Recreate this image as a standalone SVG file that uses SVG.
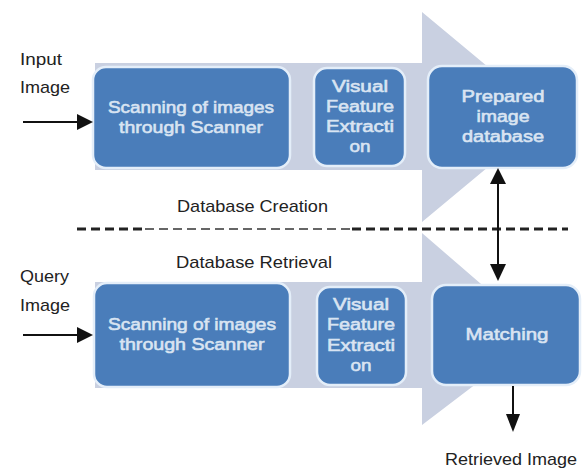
<svg xmlns="http://www.w3.org/2000/svg" width="586" height="470" viewBox="0 0 586 470">
  <style>
    .band { fill: #c9d0e1; }
    .box { fill: #4a7dba; stroke: #e4eef9; stroke-width: 2.5; }
    .boxtxt { font-family: "Liberation Sans", Arial, sans-serif; fill: #d9e4f2; stroke: #d9e4f2; stroke-width: 0.6; text-anchor: middle; }
    .lbl { font-family: "Liberation Sans", Arial, sans-serif; font-size: 17px; fill: #222; }
    .wire { stroke: #111; stroke-width: 2; fill: none; }
    .head { fill: #111; }
  </style>

  <!-- background process arrows -->
  <g id="band-creation">
    <polygon class="band" points="95,63 422,63 422,12 548,117 422,222 422,170 95,170"/>
  </g>
  <g id="band-retrieval">
    <polygon class="band" points="95,282 422,282 422,233 540,335 422,425 422,388 95,388"/>
  </g>

  <!-- section divider -->
  <g id="divider">
    <line x1="77" y1="229" x2="145" y2="229" stroke="#222" stroke-width="3" stroke-dasharray="9,5"/>
    <line x1="145" y1="229" x2="352" y2="229" stroke="#666" stroke-width="2" stroke-dasharray="9,5"/>
    <line x1="352" y1="229" x2="568" y2="229" stroke="#222" stroke-width="3" stroke-dasharray="9,5"/>
  </g>

  <!-- creation row -->
  <g id="scan-create">
    <rect class="box" x="93" y="67" width="197" height="101" rx="13"/>
    <text class="boxtxt" x="191" y="113" font-size="17" textLength="166" lengthAdjust="spacingAndGlyphs">Scanning of images</text>
    <text class="boxtxt" x="191" y="133" font-size="17" textLength="144" lengthAdjust="spacingAndGlyphs">through Scanner</text>
  </g>
  <g id="feature-create">
    <rect class="box" x="314" y="68" width="91" height="98" rx="13"/>
    <text class="boxtxt" x="360" y="92" font-size="16" textLength="56" lengthAdjust="spacingAndGlyphs">Visual</text>
    <text class="boxtxt" x="360" y="112" font-size="16" textLength="68" lengthAdjust="spacingAndGlyphs">Feature</text>
    <text class="boxtxt" x="360" y="132" font-size="16" textLength="68" lengthAdjust="spacingAndGlyphs">Extracti</text>
    <text class="boxtxt" x="360" y="152" font-size="17" textLength="21" lengthAdjust="spacingAndGlyphs">on</text>
  </g>
  <g id="prepared-db">
    <rect class="box" x="428" y="66" width="149" height="102" rx="14"/>
    <text class="boxtxt" x="503" y="102" font-size="16" textLength="83" lengthAdjust="spacingAndGlyphs">Prepared</text>
    <text class="boxtxt" x="503" y="122" font-size="16" textLength="53" lengthAdjust="spacingAndGlyphs">image</text>
    <text class="boxtxt" x="503" y="142" font-size="16" textLength="82" lengthAdjust="spacingAndGlyphs">database</text>
  </g>

  <!-- retrieval row -->
  <g id="scan-retrieve">
    <rect class="box" x="94" y="283" width="196" height="104" rx="13"/>
    <text class="boxtxt" x="192" y="330" font-size="17" textLength="168" lengthAdjust="spacingAndGlyphs">Scanning of images</text>
    <text class="boxtxt" x="192" y="350" font-size="17" textLength="145" lengthAdjust="spacingAndGlyphs">through Scanner</text>
  </g>
  <g id="feature-retrieve">
    <rect class="box" x="317" y="287" width="89" height="98" rx="13"/>
    <text class="boxtxt" x="361" y="310" font-size="16" textLength="56" lengthAdjust="spacingAndGlyphs">Visual</text>
    <text class="boxtxt" x="361" y="330" font-size="16" textLength="68" lengthAdjust="spacingAndGlyphs">Feature</text>
    <text class="boxtxt" x="361" y="351" font-size="16" textLength="68" lengthAdjust="spacingAndGlyphs">Extracti</text>
    <text class="boxtxt" x="361" y="371" font-size="17" textLength="21" lengthAdjust="spacingAndGlyphs">on</text>
  </g>
  <g id="matching">
    <rect class="box" x="432" y="285" width="148" height="100" rx="14"/>
    <text class="boxtxt" x="507" y="340" font-size="17" textLength="83" lengthAdjust="spacingAndGlyphs">Matching</text>
  </g>

  <!-- free labels -->
  <g id="labels">
    <text class="lbl" x="20" y="65" textLength="42" lengthAdjust="spacingAndGlyphs">Input</text>
    <text class="lbl" x="20" y="93" textLength="50" lengthAdjust="spacingAndGlyphs">Image</text>
    <text class="lbl" x="20" y="282" textLength="49" lengthAdjust="spacingAndGlyphs">Query</text>
    <text class="lbl" x="20" y="311" textLength="50" lengthAdjust="spacingAndGlyphs">Image</text>
    <text class="lbl" x="177" y="212" textLength="151" lengthAdjust="spacingAndGlyphs">Database Creation</text>
    <text class="lbl" x="176" y="268" textLength="156" lengthAdjust="spacingAndGlyphs">Database Retrieval</text>
    <text class="lbl" x="445" y="465" textLength="132" lengthAdjust="spacingAndGlyphs">Retrieved Image</text>
  </g>

  <!-- connectors -->
  <g id="connectors">
    <line class="wire" x1="23" y1="122" x2="79" y2="122"/>
    <polygon class="head" points="77,114 93,122 77,130"/>
    <line class="wire" x1="23" y1="335" x2="79" y2="335"/>
    <polygon class="head" points="77,327 93,335 77,343"/>
    <line class="wire" x1="498" y1="180" x2="498" y2="268"/>
    <polygon class="head" points="490,184 498,168 506,184"/>
    <polygon class="head" points="490,264 498,281 506,264"/>
    <line class="wire" x1="513" y1="386" x2="513" y2="418"/>
    <polygon class="head" points="506,414 513,432 520,414"/>
  </g>
</svg>
